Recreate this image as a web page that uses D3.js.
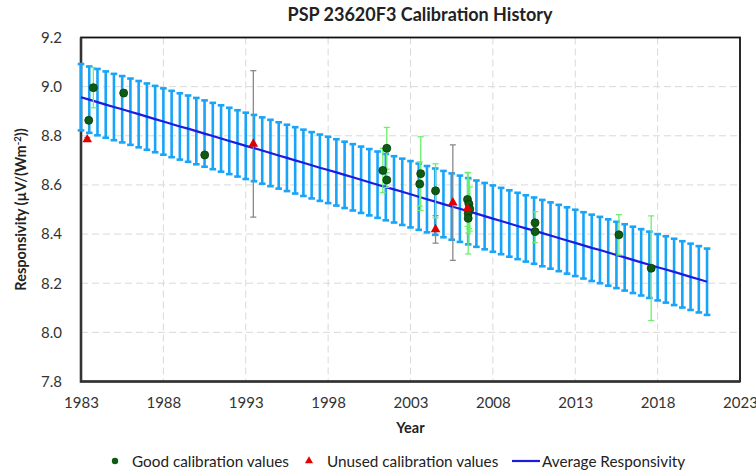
<!DOCTYPE html>
<html>
<head>
<meta charset="utf-8">
<script src="https://cdn.jsdelivr.net/npm/d3@7"></script>
<style>
  body { margin: 0; background: #fff; }
  text { font-family: Lato, "Open Sans", sans-serif; fill: #222; }
  .grid line { stroke: #d9d9d9; stroke-dasharray: 7,4; }
  .axis path, .axis line { display: none; }
  .axis text { font-size: 15px; fill: #333; }
</style>
</head>
<body>
<script>
// chart data
var goodYears  = [1983.47, 1983.75, 1985.59, 1990.51, 2001.32, 2001.56, 2001.56, 2003.62, 2003.56, 2004.52,
                  2006.46, 2006.55, 2006.6, 2006.5, 2006.5, 2010.56, 2010.56, 2015.65, 2017.61];
var goodValues = [8.863, 8.996, 8.974, 8.722, 8.659, 8.749, 8.620, 8.646, 8.604, 8.576,
                  8.541, 8.522, 8.502, 8.484, 8.464, 8.446, 8.410, 8.397, 8.261];
var goodErrors = [0.01, 0.082, 0.012, 0.01, 0.09, 0.085, 0.03, 0.15, 0.09, 0.11,
                  0.11, 0.1, 0.09, 0.165, 0.06, 0.045, 0.045, 0.082, 0.213];

var unusedYears  = [1983.38, 1993.46, 2004.52, 2005.57, 2006.46];
var unusedValues = [8.785, 8.767, 8.419, 8.528, 8.504];
var unusedErrors = [0.008, 0.298, 0.056, 0.235, 0.02];

// average responsivity, every half year, with its uncertainty
var avgYears = [1983, 1983.5, 1984, 1984.5, 1985, 1985.5, 1986, 1986.5, 1987, 1987.5,
                1988, 1988.5, 1989, 1989.5, 1990, 1990.5, 1991, 1991.5, 1992, 1992.5,
                1993, 1993.5, 1994, 1994.5, 1995, 1995.5, 1996, 1996.5, 1997, 1997.5,
                1998, 1998.5, 1999, 1999.5, 2000, 2000.5, 2001, 2001.5, 2002, 2002.5,
                2003, 2003.5, 2004, 2004.5, 2005, 2005.5, 2006, 2006.5, 2007, 2007.5,
                2008, 2008.5, 2009, 2009.5, 2010, 2010.5, 2011, 2011.5, 2012, 2012.5,
                2013, 2013.5, 2014, 2014.5, 2015, 2015.5, 2016, 2016.5, 2017, 2017.5,
                2018, 2018.5, 2019, 2019.5, 2020, 2020.5, 2021];
var avgValues = [8.957, 8.947, 8.937, 8.927, 8.917, 8.908, 8.898, 8.888, 8.878, 8.868,
                 8.858, 8.848, 8.838, 8.829, 8.819, 8.809, 8.799, 8.789, 8.779, 8.769,
                 8.759, 8.750, 8.740, 8.730, 8.720, 8.710, 8.700, 8.690, 8.680, 8.670,
                 8.661, 8.651, 8.641, 8.631, 8.621, 8.611, 8.601, 8.591, 8.582, 8.572,
                 8.562, 8.552, 8.542, 8.532, 8.522, 8.512, 8.503, 8.493, 8.483, 8.473,
                 8.463, 8.453, 8.443, 8.433, 8.423, 8.414, 8.404, 8.394, 8.384, 8.374,
                 8.364, 8.354, 8.344, 8.335, 8.325, 8.315, 8.305, 8.295, 8.285, 8.275,
                 8.265, 8.256, 8.246, 8.236, 8.226, 8.216, 8.206];
var avgUncertainty = 0.135;

var xTicks = [1983, 1988, 1993, 1998, 2003, 2008, 2013, 2018, 2023];
var yTicks = [7.8, 8.0, 8.2, 8.4, 8.6, 8.8, 9.0, 9.2];

var legendLabels = ["Good calibration values", "Unused calibration values", "Average Responsivity"];

var w = 756, h = 472;
var pLeft = 81, pRight = 740, pTop = 37.5, pBottom = 381.5; //plot area edges

window.onload = function(){

    var svg = d3.select("body").append("svg")
        .attr("width", w)
        .attr("height", h);

    var x = d3.scaleLinear().domain([1983, 2023]).range([pLeft, pRight]);
    var y = d3.scaleLinear().domain([7.8, 9.2]).range([pBottom, pTop]);

    //dashed grid
    svg.append("g").attr("class", "grid")
        .selectAll("line").data(xTicks.slice(1, -1)).enter().append("line")
        .attr("x1", d => x(d)).attr("x2", d => x(d))
        .attr("y1", pTop).attr("y2", pBottom);
    svg.append("g").attr("class", "grid")
        .selectAll("line").data(yTicks.slice(1, -1)).enter().append("line")
        .attr("x1", pLeft).attr("x2", pRight)
        .attr("y1", d => y(d)).attr("y2", d => y(d));

    //frame
    svg.append("rect")
        .attr("x", pLeft).attr("y", pTop)
        .attr("width", pRight - pLeft).attr("height", pBottom - pTop)
        .attr("fill", "none").attr("stroke", "#111").attr("stroke-width", 1.8);
    svg.append("path")
        .attr("d", "M" + pLeft + "," + pTop + "V" + pBottom + "H" + pRight)
        .attr("fill", "none").attr("stroke", "#333").attr("stroke-width", 2.6);

    //axes (labels only)
    svg.append("g").attr("class", "axis")
        .attr("transform", "translate(0," + (pBottom + 13) + ")")
        .call(d3.axisBottom(x).tickValues(xTicks).tickFormat(d3.format("d")).tickSize(0));
    svg.append("g").attr("class", "axis")
        .attr("transform", "translate(" + (pLeft - 16) + ",0)")
        .call(d3.axisLeft(y).tickValues(yTicks).tickFormat(d3.format(".1f")).tickSize(0));

    //error bar helper
    function errorBars(g, xs, ys, es, color, width, cap){
        var sel = g.selectAll("g").data(xs).enter().append("g");
        sel.append("line")
            .attr("x1", d => x(d)).attr("x2", d => x(d))
            .attr("y1", (d, i) => y(ys[i] + es[i]))
            .attr("y2", (d, i) => y(ys[i] - es[i]));
        [1, -1].forEach(function(s){
            sel.append("line")
                .attr("x1", d => x(d) - cap).attr("x2", d => x(d) + cap)
                .attr("y1", (d, i) => y(ys[i] + s * es[i]))
                .attr("y2", (d, i) => y(ys[i] + s * es[i]));
        });
        g.attr("stroke", color).attr("stroke-width", width);
    }

    //blue uncertainty bars of the average
    errorBars(svg.append("g"), avgYears, avgValues,
        avgValues.map(() => avgUncertainty), "#18a4f8", 2.6, 3.3);

    //average line
    svg.append("path")
        .datum(avgYears)
        .attr("d", d3.line().x(d => x(d)).y((d, i) => y(avgValues[i])))
        .attr("fill", "none")
        .attr("stroke", "#1c1ce0")
        .attr("stroke-width", 2.2);

    //point error bars
    errorBars(svg.append("g"), unusedYears, unusedValues, unusedErrors, "#8a8a8a", 1.3, 3);
    errorBars(svg.append("g"), goodYears, goodValues, goodErrors, "#6cf06c", 1.3, 3);

    //good points
    svg.append("g").selectAll("circle")
        .data(goodYears).enter().append("circle")
        .attr("cx", d => x(d))
        .attr("cy", (d, i) => y(goodValues[i]))
        .attr("r", 4)
        .attr("fill", "#0e5c14")
        .attr("stroke", "#063a09")
        .attr("stroke-width", 0.8);

    //unused points
    var tri = d3.symbol().type(d3.symbolTriangle).size(40);
    svg.append("g").selectAll("path")
        .data(unusedYears).enter().append("path")
        .attr("d", tri)
        .attr("transform", (d, i) => "translate(" + x(d) + "," + y(unusedValues[i]) + ")")
        .attr("fill", "#e10000");

    //title
    svg.append("text")
        .attr("x", 420).attr("y", 21)
        .attr("text-anchor", "middle")
        .style("font-size", "18px").style("font-weight", "bold")
        .text("PSP 23620F3 Calibration History");

    //axis titles
    svg.append("text")
        .attr("x", (pLeft + pRight) / 2).attr("y", 433)
        .attr("text-anchor", "middle")
        .style("font-size", "14.5px").style("font-weight", "bold")
        .text("Year");

    var yl = svg.append("text")
        .attr("transform", "translate(26," + ((pTop + pBottom) / 2) + ") rotate(-90)")
        .attr("text-anchor", "middle")
        .style("font-size", "14.5px").style("font-weight", "bold");
    yl.append("tspan").text("Responsivity (µV/(Wm");
    yl.append("tspan").attr("baseline-shift", "super").style("font-size", "9.5px").text("-2");
    yl.append("tspan").text("))");

    //legend
    var lg = svg.append("g").attr("transform", "translate(0,461)");
    lg.append("circle").attr("cx", 115).attr("cy", 0).attr("r", 3.2).attr("fill", "#0e5c14");
    lg.append("text").attr("x", 132).attr("y", 5.5).style("font-size", "15.3px").text(legendLabels[0]);
    lg.append("path").attr("d", d3.symbol().type(d3.symbolTriangle).size(28))
        .attr("transform", "translate(309,0)").attr("fill", "#e10000");
    lg.append("text").attr("x", 327).attr("y", 5.5).style("font-size", "15.3px").text(legendLabels[1]);
    lg.append("line").attr("x1", 512).attr("x2", 540).attr("y1", 0).attr("y2", 0)
        .attr("stroke", "#1c1ce0").attr("stroke-width", 2.2);
    lg.append("text").attr("x", 542).attr("y", 5.5).style("font-size", "15.3px").text(legendLabels[2]);
};
</script>
</body>
</html>
